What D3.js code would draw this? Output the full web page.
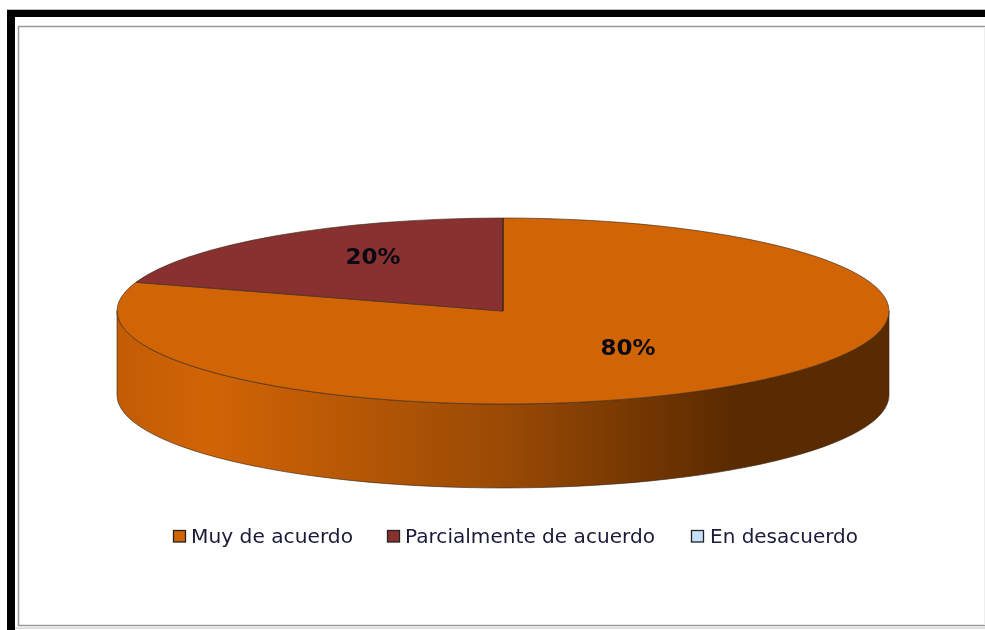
<!DOCTYPE html>
<html>
<head>
<meta charset="utf-8">
<script src="https://cdn.jsdelivr.net/npm/d3@7"></script>
<style>
  html, body { margin: 0; padding: 0; background: #fff; overflow: hidden; }
  text { font-family: "DejaVu Sans", sans-serif; filter: blur(0.35px); }
</style>
</head>
<body>
<svg id="chart" width="985" height="630"></svg>
<script>
const categories = ['Muy de acuerdo', 'Parcialmente de acuerdo', 'En desacuerdo'];
const values = [80, 20, 0];
const colors = ['#d16405', '#893131', '#c6e0fb'];
const wallStops = [
  { at: 0, color: '#c25c05' },
  { at: 0.12, color: '#d16405' },
  { at: 0.5, color: '#9a4a05' },
  { at: 0.8, color: '#5a2a00' },
  { at: 1, color: '#5a2a00' }
];
const labelSpots = [[373, 257], [628, 348]];
const legendSwatchX = [179.5, 393.5, 697.5];
const legendTextX = [191, 405, 710];
const legendTextW = [162, 250, 148];

const svg = d3.select('#chart');
const cx = 503, cy = 311, rx = 386, ry = 93, depth = 84;

// outer frame
svg.append('rect').attr('x', 7).attr('y', 9).attr('width', 990).attr('height', 640).attr('fill', '#bbb');
svg.append('rect').attr('x', 7).attr('y', 10).attr('width', 990).attr('height', 640).attr('fill', '#000');
svg.append('rect').attr('x', 15).attr('y', 17).attr('width', 980).attr('height', 620).attr('fill', '#fff');
svg.append('rect').attr('x', 18.5).attr('y', 26.5).attr('width', 975).attr('height', 599)
  .attr('fill', '#fff').attr('stroke', '#999').attr('stroke-width', 1.5);
svg.append('rect').attr('x', 984).attr('y', 27).attr('width', 1).attr('height', 598).attr('fill', '#eee');
svg.append('rect').attr('x', 15).attr('y', 627.5).attr('width', 970).attr('height', 1.2).attr('fill', '#ccc');

const defs = svg.append('defs');
const grad = defs.append('linearGradient').attr('id', 'wall')
  .attr('gradientUnits', 'userSpaceOnUse')
  .attr('x1', cx - rx).attr('x2', cx + rx).attr('y1', 0).attr('y2', 0);
grad.selectAll('stop').data(wallStops).join('stop')
  .attr('offset', d => d.at).attr('stop-color', d => d.color);

// side wall, lower half of the ellipse pushed down by depth
const wall = `M${cx - rx},${cy} A${rx},${ry} 0 0 0 ${cx + rx},${cy} L${cx + rx},${cy + depth} A${rx},${ry} 0 0 1 ${cx - rx},${cy + depth} Z`;
svg.append('path').attr('d', wall).attr('fill', 'url(#wall)').attr('stroke', '#3a2a1a')
  .attr('stroke-width', 0.7).attr('stroke-opacity', 0.9);

// top face, unit pie squashed into the ellipse
const pie = d3.pie().sort(null)(values);
const arc = d3.arc().innerRadius(0).outerRadius(rx);
svg.append('g').attr('transform', `translate(${cx},${cy}) scale(1,${ry / rx})`)
  .selectAll('path').data(pie).join('path')
  .attr('d', arc)
  .attr('fill', (d, i) => colors[i])
  .attr('stroke', '#3a2a1a').attr('stroke-width', 0.7).attr('stroke-opacity', 0.9)
  .attr('vector-effect', 'non-scaling-stroke');

// percent labels, 80% belongs to the first slice
svg.selectAll('text.pct').data([values[1], values[0]]).join('text')
  .attr('class', 'pct')
  .attr('x', (d, i) => labelSpots[i][0]).attr('y', (d, i) => labelSpots[i][1])
  .attr('dy', '0.35em').attr('text-anchor', 'middle')
  .attr('font-size', 21).attr('font-weight', 'bold').attr('fill', '#0a0a14')
  .attr('textLength', 55).attr('lengthAdjust', 'spacingAndGlyphs')
  .text(d => d + '%');

// legend
svg.selectAll('rect.key').data(categories).join('rect')
  .attr('class', 'key')
  .attr('x', (d, i) => legendSwatchX[i] - 6).attr('y', 530.5)
  .attr('width', 12).attr('height', 11.5)
  .attr('fill', (d, i) => colors[i]).attr('stroke', '#222').attr('stroke-width', 1.3);
svg.selectAll('text.leg').data(categories).join('text')
  .attr('class', 'leg')
  .attr('x', (d, i) => legendTextX[i]).attr('y', 543)
  .attr('font-size', 19).attr('fill', '#1a1a3a')
  .attr('textLength', (d, i) => legendTextW[i]).attr('lengthAdjust', 'spacingAndGlyphs')
  .text(d => d);
</script>
</body>
</html>
